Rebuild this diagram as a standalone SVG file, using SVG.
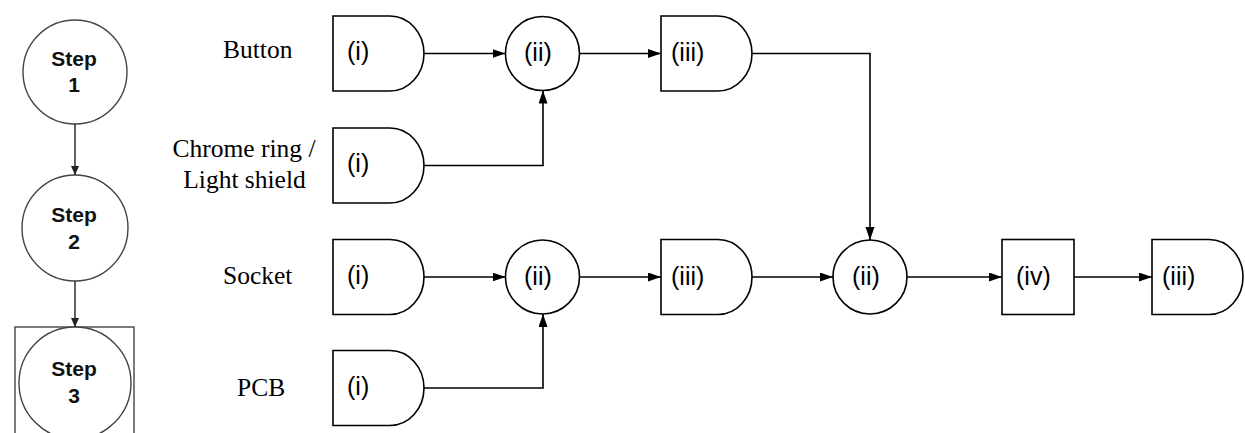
<svg xmlns="http://www.w3.org/2000/svg" width="1245" height="433" viewBox="0 0 1245 433">
<defs>
<marker id="ah" markerUnits="userSpaceOnUse" markerWidth="13" markerHeight="10" refX="13" refY="4.5" orient="auto">
<path d="M0,0 L13,4.5 L0,9 z" fill="#000"/>
</marker>
<marker id="ahs" markerUnits="userSpaceOnUse" markerWidth="10" markerHeight="9" refX="9" refY="4" orient="auto">
<path d="M0,0 L9,4 L0,8 z" fill="#222"/>
</marker>
<style>
.shape{fill:#fff;stroke:#000;stroke-width:1.6}
.step{fill:#fff;stroke:#444;stroke-width:1.4}
.lbl{font-family:"Liberation Sans",Arial,sans-serif;font-size:25px;fill:#000}
.steptxt{font-family:"Liberation Sans",Arial,sans-serif;font-size:21px;font-weight:bold;fill:#111;text-anchor:middle}
.name{font-family:"Liberation Serif","Times New Roman",serif;font-size:25.5px;fill:#000}
.conn{fill:none;stroke:#000;stroke-width:1.6}
.sconn{fill:none;stroke:#222;stroke-width:1.4}
</style>
</defs>

<g id="step1">
<circle class="step" cx="75" cy="72" r="52"/>
<text class="steptxt" x="74" y="66">Step</text>
<text class="steptxt" x="74" y="92">1</text>
</g>
<g id="step2">
<circle class="step" cx="75" cy="228" r="53"/>
<text class="steptxt" x="74" y="222">Step</text>
<text class="steptxt" x="74" y="249">2</text>
</g>
<g id="step3">
<rect class="step" x="15" y="327" width="119" height="120"/>
<circle class="step" cx="75" cy="383" r="56"/>
<text class="steptxt" x="74" y="376">Step</text>
<text class="steptxt" x="74" y="403">3</text>
</g>

<g id="labels">
<text class="name" x="223" y="58">Button</text>
<text class="name" x="244" y="157" text-anchor="middle">Chrome ring /</text>
<text class="name" x="244.5" y="188" text-anchor="middle">Light shield</text>
<text class="name" x="223" y="284">Socket</text>
<text class="name" x="237" y="396">PCB</text>
</g>

<g id="button-i">
<path class="shape" d="M333,16 h57 a34,37.5 0 0 1 0,75 h-57 z"/>
<text class="lbl" x="347" y="60">(i)</text>
</g>
<g id="chrome-i">
<path class="shape" d="M333,128 h57 a34,37.5 0 0 1 0,75 h-57 z"/>
<text class="lbl" x="347" y="172">(i)</text>
</g>
<g id="socket-i">
<path class="shape" d="M333,239.5 h57 a34,37.5 0 0 1 0,75 h-57 z"/>
<text class="lbl" x="347" y="283.5">(i)</text>
</g>
<g id="pcb-i">
<path class="shape" d="M333,350.5 h57 a34,37.5 0 0 1 0,75 h-57 z"/>
<text class="lbl" x="347" y="394.5">(i)</text>
</g>

<g id="top-ii">
<circle class="shape" cx="542.5" cy="53.5" r="37"/>
<text class="lbl" x="524" y="61">(ii)</text>
</g>
<g id="bottom-ii">
<circle class="shape" cx="542.5" cy="277" r="37"/>
<text class="lbl" x="524" y="284.5">(ii)</text>
</g>
<g id="top-iii">
<path class="shape" d="M661,16 h57 a34,37.5 0 0 1 0,75 h-57 z"/>
<text class="lbl" x="671" y="61">(iii)</text>
</g>
<g id="bottom-iii">
<path class="shape" d="M661,239.5 h57 a34,37.5 0 0 1 0,75 h-57 z"/>
<text class="lbl" x="671" y="284.5">(iii)</text>
</g>
<g id="merge-ii">
<circle class="shape" cx="870" cy="277" r="37"/>
<text class="lbl" x="852" y="284.5">(ii)</text>
</g>
<g id="inspect-iv">
<rect class="shape" x="1002" y="239.5" width="72" height="75"/>
<text class="lbl" x="1016" y="284.5">(iv)</text>
</g>
<g id="final-iii">
<path class="shape" d="M1152,239.5 h57 a34,37.5 0 0 1 0,75 h-57 z"/>
<text class="lbl" x="1162" y="284.5">(iii)</text>
</g>

<g id="connectors">
<path class="sconn" d="M75,124 V175" marker-end="url(#ahs)"/>
<path class="sconn" d="M75,281 V327" marker-end="url(#ahs)"/>
<path class="conn" d="M424,53.5 H505.5" marker-end="url(#ah)"/>
<path class="conn" d="M424,165.5 H543 V90.5" marker-end="url(#ah)"/>
<path class="conn" d="M579.5,53.5 H661" marker-end="url(#ah)"/>
<path class="conn" d="M752,53.5 H870 V240" marker-end="url(#ah)"/>
<path class="conn" d="M424,277 H505.5" marker-end="url(#ah)"/>
<path class="conn" d="M424,388 H543 V314" marker-end="url(#ah)"/>
<path class="conn" d="M579.5,277 H661" marker-end="url(#ah)"/>
<path class="conn" d="M752,277 H833" marker-end="url(#ah)"/>
<path class="conn" d="M907,277 H1002" marker-end="url(#ah)"/>
<path class="conn" d="M1074,277 H1152" marker-end="url(#ah)"/>
</g>
</svg>
